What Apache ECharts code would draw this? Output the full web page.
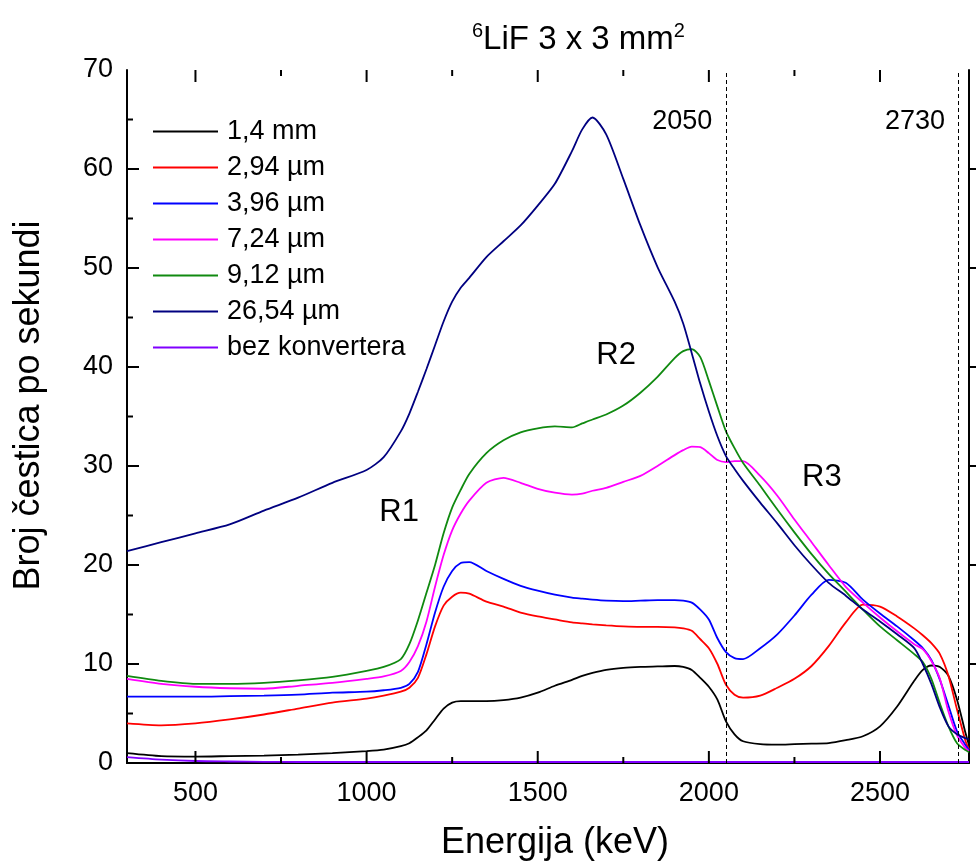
<!DOCTYPE html>
<html>
<head>
<meta charset="utf-8">
<script src="https://cdn.jsdelivr.net/npm/echarts@6/dist/echarts.min.js"></script>
<style>
html,body{margin:0;padding:0;background:#fff;}
#chart{width:976px;height:863px;}
</style>
</head>
<body>
<div id="chart"></div>
<script>
// ---- data ----
const energy = [300, 400, 500, 600, 700, 800, 900, 1000, 1050, 1100, 1125, 1150, 1175, 1200, 1225, 1250, 1275, 1300, 1350, 1400, 1450, 1500, 1550, 1600, 1630, 1660, 1700, 1750, 1800, 1850, 1900, 1925, 1950, 1975, 2000, 2025, 2050, 2075, 2100, 2150, 2200, 2250, 2300, 2350, 2400, 2450, 2500, 2550, 2600, 2625, 2650, 2675, 2700, 2725, 2750, 2760];

const s_1_4mm = [1.0, 0.7, 0.65, 0.7, 0.75, 0.85, 1.0, 1.2, 1.35, 1.7, 2.0, 2.6, 3.3, 4.4, 5.5, 6.1, 6.25, 6.25, 6.25, 6.35, 6.6, 7.1, 7.8, 8.4, 8.8, 9.1, 9.4, 9.6, 9.7, 9.75, 9.8, 9.7, 9.4, 8.6, 7.7, 6.4, 4.2, 2.9, 2.2, 1.9, 1.85, 1.9, 1.95, 2.0, 2.3, 2.7, 3.7, 5.7, 8.3, 9.4, 9.85, 9.7, 8.8, 6.4, 3.0, 1.8];
const s_2_94um = [4.0, 3.8, 4.0, 4.4, 4.9, 5.5, 6.1, 6.5, 6.8, 7.2, 7.6, 8.6, 11.0, 13.8, 15.9, 16.8, 17.2, 17.1, 16.3, 15.8, 15.2, 14.8, 14.5, 14.2, 14.1, 14.0, 13.9, 13.8, 13.75, 13.75, 13.7, 13.6, 13.35, 12.5, 11.6, 10.0, 7.9, 6.9, 6.6, 6.8, 7.6, 8.5, 9.8, 11.8, 14.2, 16.0, 15.8, 14.8, 13.6, 12.9, 12.1, 11.0, 8.8, 5.4, 2.2, 1.4];
const s_3_96um = [6.7, 6.7, 6.7, 6.75, 6.8, 6.9, 7.1, 7.2, 7.35, 7.6, 8.0, 9.2, 12.0, 15.2, 17.8, 19.4, 20.2, 20.3, 19.4, 18.6, 17.9, 17.4, 17.0, 16.7, 16.6, 16.5, 16.4, 16.35, 16.4, 16.45, 16.45, 16.4, 16.2, 15.5, 14.5, 12.6, 11.2, 10.6, 10.5, 11.6, 13.0, 14.9, 17.0, 18.5, 18.2, 16.5, 15.1, 13.8, 12.4, 11.6, 10.4, 8.4, 5.8, 3.2, 1.8, 1.3];
const s_7_24um = [8.5, 8.0, 7.7, 7.55, 7.5, 7.8, 8.1, 8.5, 8.75, 9.3, 10.2, 11.8, 14.3, 17.8, 21.0, 23.5, 25.2, 26.5, 28.3, 28.8, 28.3, 27.7, 27.3, 27.1, 27.2, 27.5, 27.8, 28.4, 29.0, 30.0, 31.1, 31.6, 31.95, 31.9, 31.3, 30.6, 30.4, 30.5, 30.5, 29.0, 27.0, 24.6, 22.3, 20.0, 17.8, 16.2, 14.7, 13.3, 12.0, 11.5, 10.3, 8.5, 5.2, 2.8, 1.5, 1.2];
const s_9_12um = [8.8, 8.3, 8.0, 8.0, 8.1, 8.35, 8.7, 9.3, 9.7, 10.5, 12.0, 14.4, 17.2, 20.0, 23.2, 25.8, 27.6, 29.2, 31.3, 32.6, 33.4, 33.8, 34.0, 33.9, 34.3, 34.7, 35.2, 36.1, 37.4, 39.0, 40.9, 41.6, 41.8, 41.0, 38.6, 36.0, 33.5, 31.8, 30.3, 28.0, 25.6, 23.3, 21.1, 19.1, 17.3, 15.5, 13.8, 12.4, 11.0, 10.2, 8.5, 6.0, 3.7, 2.0, 1.3, 1.1];
const s_26_54um = [21.4, 22.3, 23.2, 24.1, 25.5, 26.8, 28.3, 29.6, 30.9, 33.5, 35.3, 37.5, 39.8, 42.2, 44.6, 46.6, 48.0, 49.0, 51.1, 52.7, 54.3, 56.3, 58.5, 61.8, 64.0, 65.2, 63.5, 59.0, 54.3, 50.1, 46.6, 44.4, 41.4, 38.3, 35.5, 33.0, 31.0, 29.7, 28.5, 26.3, 24.2, 22.0, 20.0, 18.2, 16.9, 15.5, 14.3, 13.0, 11.6, 10.0, 8.0, 5.6, 3.7, 2.9, 2.5, 2.4];
const s_bez = [0.6, 0.35, 0.2, 0.15, 0.12, 0.1, 0.1, 0.1, 0.1, 0.1, 0.1, 0.1, 0.1, 0.1, 0.1, 0.1, 0.1, 0.1, 0.1, 0.1, 0.1, 0.1, 0.1, 0.1, 0.1, 0.1, 0.1, 0.1, 0.1, 0.1, 0.1, 0.1, 0.1, 0.1, 0.1, 0.1, 0.1, 0.1, 0.1, 0.1, 0.1, 0.1, 0.1, 0.1, 0.1, 0.1, 0.1, 0.1, 0.1, 0.1, 0.1, 0.1, 0.1, 0.1, 0.1, 0.1];

const seriesNames = ['1,4 mm', '2,94 µm', '3,96 µm', '7,24 µm', '9,12 µm', '26,54 µm', 'bez konvertera'];
const seriesColors = ['#000000', '#ff0000', '#0000ff', '#ff00ff', '#108a10', '#000080', '#8000ff'];
const seriesValues = [s_1_4mm, s_2_94um, s_3_96um, s_7_24um, s_9_12um, s_26_54um, s_bez];

const xMajorTicks = [500, 1000, 1500, 2000, 2500];
const xMinorTicks = [750, 1250, 1750, 2250];
const yMajorTicks = [10, 20, 30, 40, 50, 60];
const yMinorTicks = [5, 15, 25, 35, 45, 55, 65];
const guideLines = [2050, 2730];
const guideLabels = ['2050', '2730'];
const guideLabelY = 64.8;
const regionLabels = ['R1', 'R2', 'R3'];
const regionX = [1095, 1729, 2330];
const regionY = [25.3, 41.2, 28.8];

// ---- chart ----
const chart = echarts.init(document.getElementById('chart'), null, {renderer: 'canvas'});
const FONT = 'Liberation Sans';
const XMIN = 300, XMAX = 2760, YMIN = 0, YMAX = 70;

const series = seriesNames.map((name, i) => ({
  name: name,
  type: 'line',
  xAxisIndex: 0,
  yAxisIndex: 0,
  symbol: 'none',
  smooth: 0.25,
  color: seriesColors[i],
  lineStyle: {color: seriesColors[i], width: 1.8},
  data: energy.map((e, k) => [e, seriesValues[i][k]]),
  z: 3
}));

series.push({
  name: 'guides',
  type: 'line',
  data: [],
  symbol: 'none',
  silent: true,
  markLine: {
    silent: true,
    symbol: 'none',
    label: {show: false},
    lineStyle: {color: '#000', type: [4, 3], width: 1, opacity: 1},
    data: guideLines.map(v => ({xAxis: v}))
  }
});

const textLabel = (size, align) => ({
  show: true, position: 'inside', formatter: p => p.name,
  align: align, verticalAlign: 'middle', opacity: 1,
  fontSize: size, fontFamily: FONT, color: '#000000', textBorderWidth: 0
});

series.push({
  name: 'guideLabels',
  type: 'scatter',
  symbolSize: 1,
  silent: true,
  itemStyle: {opacity: 0},
  data: guideLines.map((v, i) => ({value: [v - 40, guideLabelY], name: guideLabels[i]})),
  label: textLabel(27, 'right'),
  emphasis: {disabled: true}
});

series.push({
  name: 'regions',
  type: 'scatter',
  symbolSize: 1,
  silent: true,
  itemStyle: {opacity: 0},
  data: regionLabels.map((t, i) => ({value: [regionX[i], regionY[i]], name: t})),
  label: textLabel(31, 'center'),
  emphasis: {disabled: true}
});

// axis tick marks, drawn through the axes' own scales (custom series)
const tickStyle = {stroke: '#000', lineWidth: 2};
series.push({
  name: 'xTicks',
  type: 'custom',
  silent: true,
  clip: false,
  z: 20,
  data: xMajorTicks.map(v => [v, 12]).concat(xMinorTicks.map(v => [v, 6])),
  renderItem: (params, api) => {
    const x = api.coord([api.value(0), YMIN])[0];
    const yb = api.coord([XMIN, YMIN])[1];
    const yt = api.coord([XMIN, YMAX])[1];
    const len = api.value(1);
    return {type: 'group', children: [
      {type: 'line', shape: {x1: x, y1: yb, x2: x, y2: yb - len}, style: tickStyle},
      {type: 'line', shape: {x1: x, y1: yt, x2: x, y2: yt + len}, style: tickStyle}
    ]};
  }
});
series.push({
  name: 'yTicks',
  type: 'custom',
  silent: true,
  clip: false,
  z: 20,
  data: yMajorTicks.map(v => [XMIN, v, 12]).concat(yMinorTicks.map(v => [XMIN, v, 6])),
  renderItem: (params, api) => {
    const y = api.coord([XMIN, api.value(1)])[1];
    const xl = api.coord([XMIN, YMIN])[0];
    const xr = api.coord([XMAX, YMIN])[0];
    const len = api.value(2);
    const kids = [{type: 'line', shape: {x1: xl, y1: y, x2: xl + len, y2: y}, style: tickStyle}];
    if (len > 8) kids.push({type: 'line', shape: {x1: xr, y1: y, x2: xr + 8, y2: y}, style: tickStyle});
    return {type: 'group', children: kids};
  }
});

const axisLineStyle = {show: true, lineStyle: {color: '#000', width: 2}};
const plainNum = v => String(v);

chart.setOption({
  animation: false,
  backgroundColor: '#fff',
  title: {
    text: '{sup|6}{main|LiF 3 x 3 mm}{sup|2}',
    left: 467, top: 16,
    textStyle: {
      rich: {
        main: {fontSize: 33, fontFamily: FONT, fontWeight: 'normal', color: '#000', lineHeight: 38},
        sup: {fontSize: 20, fontFamily: FONT, fontWeight: 'normal', color: '#000', lineHeight: 38, verticalAlign: 'top', padding: [0, 0, 16, 0]}
      }
    }
  },
  legend: {
    orient: 'vertical',
    left: 148, top: 113,
    icon: 'rect',
    itemWidth: 65, itemHeight: 2, itemGap: 9,
    data: seriesNames,
    textStyle: {fontSize: 27, lineHeight: 27, fontFamily: FONT, color: '#000', padding: [0, 0, 0, 4]}
  },
  grid: {left: 127, right: 7, top: 70, bottom: 100, outerBoundsMode: 'none'},
  xAxis: [
    {
      type: 'value', min: XMIN, max: XMAX, position: 'bottom',
      axisLine: axisLineStyle,
      axisTick: {show: false},
      axisLabel: {show: true, customValues: xMajorTicks, formatter: plainNum, fontSize: 27, fontFamily: FONT, color: '#000', margin: 17},
      splitLine: {show: false},
      name: 'Energija (keV)', nameLocation: 'middle', nameGap: 62,
      nameTextStyle: {fontSize: 36, fontFamily: FONT, color: '#000', padding: [0, 0, 0, 14]}
    },
    {
      type: 'value', min: XMIN, max: XMAX, position: 'top',
      axisLine: axisLineStyle,
      axisTick: {show: false},
      axisLabel: {show: false}, splitLine: {show: false}
    }
  ],
  yAxis: [
    {
      type: 'value', min: YMIN, max: YMAX, interval: 10, position: 'left',
      axisLine: axisLineStyle,
      axisTick: {show: false},
      axisLabel: {fontSize: 27, fontFamily: FONT, color: '#000', margin: 14, formatter: plainNum},
      splitLine: {show: false},
      name: 'Broj čestica po sekundi', nameLocation: 'middle', nameGap: 80,
      nameTextStyle: {fontSize: 36, fontFamily: FONT, color: '#000', padding: [0, 0, 0, 22]}
    },
    {
      type: 'value', min: YMIN, max: YMAX, interval: 10, position: 'right',
      axisLine: axisLineStyle,
      axisTick: {show: false},
      axisLabel: {show: false},
      splitLine: {show: false}
    }
  ],
  series: series
});
</script>
</body>
</html>
